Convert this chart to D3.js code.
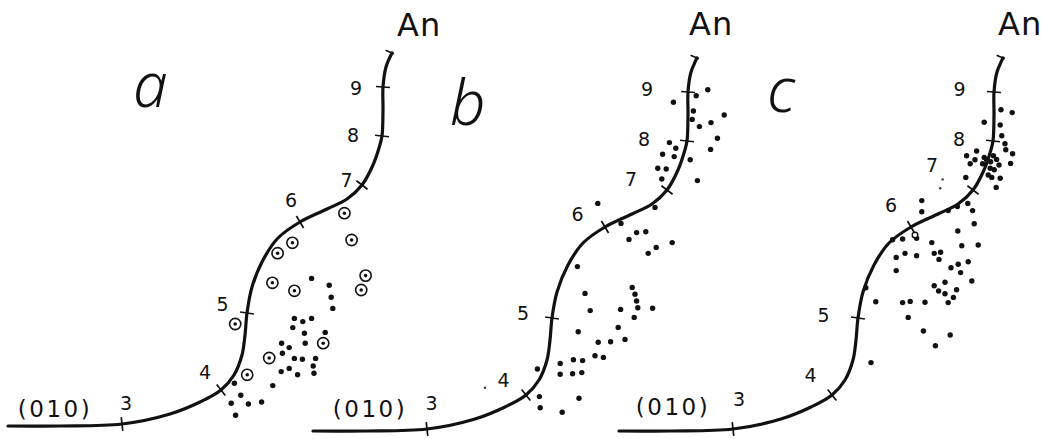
<!DOCTYPE html>
<html lang="en">
  <head>
    <meta charset="utf-8">
    <title>(010) curves a, b, c</title>
    <script src="https://d3js.org/d3.v7.min.js"></script>
    <style type="text/css">
      body { margin: 0; background: #fff; }
      svg { display: block; }
      .num { font-family: "DejaVu Sans", sans-serif; font-size: 19px; fill: #111; }
      .face { font-family: "DejaVu Sans", sans-serif; font-size: 23px; letter-spacing: 2.5px; fill: #111; }
      .an { font-family: "DejaVu Sans", sans-serif; font-size: 32px; letter-spacing: 1px; fill: #111; }
      .letter { font-family: "Noto Sans", "Open Sans", sans-serif; font-style: italic; font-weight: 300; font-size: 62px; fill: #111; }
    </style>
  </head>
  <body>
    <script type="text/javascript">

      var w = 1041;
      var h = 439;

      // The curve is the same in all three panels (units 0-100 each way)
      var curvePts = [
        [2, 3.5], [15, 3.5], [30.5, 4], [42.5, 6.5], [50, 9.5], [55.25, 12.5],
        [58.5, 16.25], [60.5, 21.25], [61.25, 26.25], [61.75, 31.75], [63, 38.25],
        [65.75, 45], [69.5, 50.5], [75, 54.5], [81.75, 57.75], [86.75, 60.25],
        [90.5, 63.75], [93.25, 68.75], [94.75, 73], [95.5, 76], [95.75, 82.5],
        [95.75, 88.25], [96.5, 93.25], [98, 96.75]
      ];
      var tickLabels = ["3", "4", "5", "6", "7", "8", "9"];
      var tickIdx = [2, 5, 9, 13, 16, 19, 21];

      // panel a: circled points and plain points
      var ringsA = [
        [86.1, 56.7], [87.9, 50.0], [73.1, 49.3], [69.4, 46.7], [68.1, 39.3], [73.6, 37.3],
        [91.4, 41.1], [90.3, 37.5], [58.8, 29.0], [61.8, 16.3], [67.3, 20.5], [80.8, 24.2]
      ];
      var dotsA = [
        [77.9, 40.4], [82.3, 38.7], [82.8, 35.7], [83.2, 32.9], [73.6, 30.4], [75.7, 29.6],
        [77.9, 30.4], [73.2, 28.1], [76.1, 26.7], [81.3, 26.9], [70.4, 24.2], [72.3, 23.1],
        [76.3, 24.2], [70.6, 21.7], [73.6, 20.4], [75.6, 20.2], [78.9, 20.4], [78.3, 18.5],
        [72.3, 17.9], [70.3, 17.1], [74.4, 16.3], [78.5, 16.7], [68.2, 13.6], [58.6, 14.2],
        [60.2, 11.2], [57.8, 9.2], [62.1, 9.0], [65.4, 9.5], [58.9, 6.2]
      ];

      // panel b
      var dotsB = [
        [100.7, 88.8], [97.8, 87.3], [92.1, 85.7], [97.1, 83.5], [96.8, 81.4], [104.8, 82.5],
        [101.5, 80.6], [98.6, 79.6], [103.1, 76.7], [91.1, 75.6], [92.7, 74.2], [101.4, 73.9],
        [89.4, 72.7], [92.3, 72.1], [96.3, 71.3], [88.2, 69.2], [90.3, 69.0], [89.2, 66.5],
        [98.1, 66.1], [73.2, 60.4], [87.5, 59.4], [79.0, 55.4], [82.9, 53.1], [85.2, 53.3],
        [81.0, 51.4], [91.8, 50.6], [87.8, 49.4], [85.8, 47.9], [68.1, 44.6], [70.0, 37.9],
        [71.3, 33.6], [78.9, 33.9], [81.8, 39.4], [82.5, 37.7], [82.9, 36.0], [83.2, 34.3],
        [82.3, 31.9], [86.9, 34.2], [68.3, 28.3], [78.3, 29.4], [73.3, 25.7], [76.4, 25.8],
        [80.0, 26.4], [72.5, 22.3], [74.6, 21.9], [58.1, 19.0], [63.8, 20.4], [67.1, 21.3],
        [69.4, 21.1], [63.8, 17.7], [66.9, 17.8], [69.2, 18.1], [58.6, 12.1], [58.8, 9.3],
        [68.5, 11.7], [64.3, 8.2]
      ];
      var specksB = [[45.0, 14.3]];

      // panel c
      var dotsC = [
        [97.5, 83.8], [100.3, 83.1], [93.3, 80.7], [97.3, 80.0], [97.7, 77.3], [98.5, 75.3],
        [98.7, 73.8], [100.4, 72.8], [99.9, 70.4], [91.4, 73.5], [88.9, 72.3], [91.0, 71.3],
        [89.8, 70.3], [93.3, 71.9], [93.9, 71.3], [94.9, 70.8], [92.9, 70.3], [95.6, 72.3],
        [96.4, 71.4], [97.0, 70.0], [94.8, 69.2], [95.8, 68.8], [94.3, 67.5], [97.3, 66.7],
        [95.2, 66.9], [96.3, 64.4], [88.7, 66.9], [77.7, 61.1], [77.7, 58.3], [84.3, 58.6],
        [86.6, 59.6], [89.2, 60.4], [90.4, 58.6], [90.8, 55.3], [86.7, 53.5], [70.4, 51.3],
        [72.9, 51.5], [76.4, 51.7], [80.2, 50.6], [87.7, 49.8], [91.8, 50.0], [71.3, 46.9],
        [73.5, 47.9], [76.4, 47.3], [71.3, 43.6], [80.8, 47.9], [82.4, 48.2], [82.0, 46.4],
        [89.3, 45.8], [86.8, 45.2], [85.0, 44.3], [87.4, 43.1], [90.2, 41.0], [83.5, 40.7],
        [80.8, 39.8], [81.9, 38.5], [83.5, 37.8], [86.4, 38.8], [85.6, 36.9], [84.3, 35.6],
        [63.7, 39.3], [66.2, 35.8], [72.9, 35.6], [74.8, 35.9], [78.5, 35.7], [74.3, 31.9],
        [78.1, 28.5], [84.8, 27.5], [81.1, 24.8], [65.0, 20.6]
      ];
      var specksC = [[82.9, 66.4], [82.3, 64.2]];
      var hollowC = [[76.0, 52.5]];

      var panelNames = ["a", "b", "c"];

      // where each panel sits on the page, and its text placement (pixels)
      var layout = [
        { dx: 0, dy: 0, letter: [133, 107], an: [397, 36], face: [55, 409],
          lab: [[4, -21], [-16, -18], [-24.5, -9], [-9, -22], [-15.5, -5], [-29, -1], [-27, 1.5]] },
        { dx: 305, dy: 5, letter: [450, 125], an: [689, 35], face: [370, 409],
          lab: [[4.5, -25.5], [-22.5, -15], [-29, -4.5], [-27.5, -13], [-36, -10.5], [-43, -1.5], [-41, -2.5]] },
        { dx: 611, dy: 5, letter: [767, 112], an: [998, 35], face: [673, 407],
          lab: [[6, -29.5], [-21.5, -19.5], [-34.5, -3], [-20, -21.5], [-41, -24.5], [-34, -1.5], [-34.5, -2.5]] }
      ];

      var rings = [ringsA, [], []];
      var dots = [dotsA, dotsB, dotsC];
      var specks = [[], specksB, specksC];
      var hollow = [[], [], hollowC];

      var svg = d3.select("body")
            .append("svg")
            .attr("width", w)
            .attr("height", h);

      svg.append("rect").attr("width", w).attr("height", h).attr("fill", "#fff");

      layout.forEach(function(p, k) {

        var x = d3.scaleLinear().domain([0, 100]).range([p.dx, p.dx + 400]);
        var y = d3.scaleLinear().domain([0, 100]).range([p.dy + 440, p.dy + 40]);

        var g = svg.append("g");

        //Curve
        var line = d3.line()
              .x(function(d) { return x(d[0]); })
              .y(function(d) { return y(d[1]); })
              .curve(d3.curveCatmullRom.alpha(0.5));

        g.append("path")
          .datum(curvePts)
          .attr("d", line)
          .attr("fill", "none")
          .attr("stroke", "#111")
          .attr("stroke-width", 3.2)
          .attr("stroke-linecap", "round");

        //Tick marks across the curve, with their numbers
        tickIdx.forEach(function(ci, i) {
          var a = curvePts[ci - 1], b = curvePts[ci + 1], c = curvePts[ci];
          var tx = x(b[0]) - x(a[0]), ty = y(b[1]) - y(a[1]);
          var len = Math.sqrt(tx * tx + ty * ty);
          var nx = -ty / len, ny = tx / len;
          var cx = x(c[0]), cy = y(c[1]);
          g.append("line")
            .attr("x1", cx - nx * 7).attr("y1", cy - ny * 7)
            .attr("x2", cx + nx * 7).attr("y2", cy + ny * 7)
            .attr("stroke", "#111")
            .attr("stroke-width", 1.7);
          g.append("text")
            .attr("class", "num")
            .attr("x", cx + p.lab[i][0])
            .attr("y", cy + p.lab[i][1])
            .attr("dy", "0.36em")
            .attr("text-anchor", "middle")
            .text(tickLabels[i]);
        });

        //Short bar closing the top of the curve
        var e0 = curvePts[curvePts.length - 2], e1 = curvePts[curvePts.length - 1];
        var ex = x(e1[0]) - x(e0[0]), ey = y(e1[1]) - y(e0[1]);
        var el = Math.sqrt(ex * ex + ey * ey);
        var mx = -ey / el, my = ex / el;
        g.append("line")
          .attr("x1", x(e1[0]) + mx * 2).attr("y1", y(e1[1]) + my * 2)
          .attr("x2", x(e1[0]) - mx * 7).attr("y2", y(e1[1]) - my * 7)
          .attr("stroke", "#111")
          .attr("stroke-width", 1.7);

        //Points
        g.selectAll(".dot")
          .data(dots[k])
          .enter()
          .append("circle")
          .attr("cx", function(d) { return x(d[0]); })
          .attr("cy", function(d) { return y(d[1]); })
          .attr("r", 2.7)
          .attr("fill", "#111");

        g.selectAll(".speck")
          .data(specks[k])
          .enter()
          .append("circle")
          .attr("cx", function(d) { return x(d[0]); })
          .attr("cy", function(d) { return y(d[1]); })
          .attr("r", 1.2)
          .attr("fill", "#333");

        g.selectAll(".hollow")
          .data(hollow[k])
          .enter()
          .append("circle")
          .attr("cx", function(d) { return x(d[0]); })
          .attr("cy", function(d) { return y(d[1]); })
          .attr("r", 2.8)
          .attr("fill", "#fff")
          .attr("stroke", "#111")
          .attr("stroke-width", 1.4);

        var ring = g.selectAll(".ring")
          .data(rings[k])
          .enter()
          .append("g");
        ring.append("circle")
          .attr("cx", function(d) { return x(d[0]); })
          .attr("cy", function(d) { return y(d[1]); })
          .attr("r", 5.6)
          .attr("fill", "#fff")
          .attr("stroke", "#111")
          .attr("stroke-width", 1.6);
        ring.append("circle")
          .attr("cx", function(d) { return x(d[0]); })
          .attr("cy", function(d) { return y(d[1]); })
          .attr("r", 1.8)
          .attr("fill", "#111");

        //Texts
        g.append("text")
          .attr("class", "face")
          .attr("x", p.face[0])
          .attr("y", p.face[1])
          .attr("dy", "0.36em")
          .attr("text-anchor", "middle")
          .text("(010)");

        g.append("text")
          .attr("class", "an")
          .attr("x", p.an[0])
          .attr("y", p.an[1])
          .text("An");

        g.append("text")
          .attr("class", "letter")
          .attr("x", p.letter[0])
          .attr("y", p.letter[1])
          .text(panelNames[k]);
      });
    </script>
  </body>
</html>
